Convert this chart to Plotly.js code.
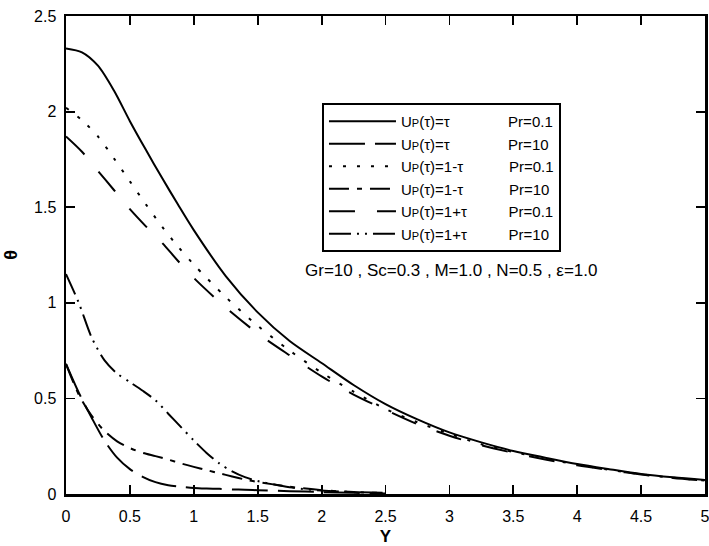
<!DOCTYPE html>
<html>
<head>
<meta charset="utf-8">
<script src="https://cdn.plot.ly/plotly-3.0.1.min.js"></script>
<style>html,body{margin:0;padding:0;background:#fff;}#chart{width:709px;height:546px;}</style>
</head>
<body>
<div id="chart"></div>
<script>
// Upper group (Pr = 0.1)
var xUpper = [0,0.125,0.25,0.375,0.5,0.625,0.75,0.875,1,1.25,1.5,1.75,2,2.25,2.5,2.75,3,3.25,3.5,3.75,4,4.25,4.5,4.75,5];
var tauPr01      = [2.33,2.31,2.24,2.11,1.95,1.80,1.655,1.515,1.38,1.14,0.95,0.80,0.685,0.57,0.47,0.39,0.322,0.27,0.225,0.19,0.157,0.13,0.105,0.087,0.073];
var oneMinusPr01 = [2.02,1.955,1.87,1.755,1.635,1.515,1.40,1.295,1.20,1.03,0.88,0.75,0.635,0.535,0.445,0.375,0.315,0.26,0.22,0.185,0.153,0.127,0.103,0.085,0.07];
var onePlusPr01  = [1.87,1.79,1.69,1.59,1.49,1.40,1.315,1.22,1.13,0.975,0.84,0.725,0.615,0.52,0.44,0.365,0.305,0.255,0.215,0.18,0.15,0.125,0.102,0.084,0.07];
// Lower group (Pr = 10)
var xLower = [0,0.1,0.2,0.3,0.4,0.5,0.6,0.7,0.8,0.9,1.0,1.1,1.2,1.3,1.4,1.5,1.75,2,2.25,2.5];
var tauPr10      = [0.68,0.53,0.40,0.28,0.19,0.13,0.09,0.062,0.046,0.038,0.032,0.029,0.027,0.024,0.022,0.02,0.015,0.01,0.006,0.003];
var oneMinusPr10 = [0.68,0.52,0.41,0.33,0.275,0.24,0.215,0.198,0.18,0.16,0.142,0.125,0.108,0.092,0.076,0.063,0.038,0.02,0.01,0.005];
var onePlusPr10  = [1.15,1.0,0.82,0.70,0.63,0.585,0.54,0.49,0.42,0.35,0.28,0.215,0.16,0.118,0.088,0.068,0.035,0.018,0.01,0.006];

var sp = function (n) { return '\u00a0'.repeat(n); };
var U = 'U<span style="font-size:11px">P</span>';
var names = [
  U + '(τ)=τ' + sp(14) + 'Pr=0.1',
  U + '(τ)=τ' + sp(14) + 'Pr=10',
  U + '(τ)=1-τ' + sp(11) + 'Pr=0.1',
  U + '(τ)=1-τ' + sp(11) + 'Pr=10',
  U + '(τ)=1+τ' + sp(10) + 'Pr=0.1',
  U + '(τ)=1+τ' + sp(10) + 'Pr=10'
];
var xTicks = [0,0.5,1,1.5,2,2.5,3,3.5,4,4.5,5];
var xTickText = ['0','0.5','1','1.5','2','2.5','3','3.5','4','4.5','5'];
var yTicks = [0,0.5,1,1.5,2,2.5];
var yTickText = ['0','0.5','1','1.5','2','2.5'];

function tr(x, y, name, dash) {
  return {x: x, y: y, name: name, type: 'scatter', mode: 'lines',
    line: {color: '#000', width: 2, dash: dash, shape: 'spline', smoothing: 0.8}};
}
var data = [
  tr(xUpper, tauPr01, names[0], 'solid'),
  tr(xLower, tauPr10, names[1], '36px,10px'),
  tr(xUpper, oneMinusPr01, names[2], '3px,11px'),
  tr(xLower, oneMinusPr10, names[3], '20px,8px,5px,8px'),
  tr(xUpper, onePlusPr01, names[4], '26px,22px'),
  tr(xLower, onePlusPr10, names[5], '22px,6px,2px,6px,2px,6px')
];
var fam = 'Arial, "Liberation Sans", sans-serif';
var tickFont = {family: fam, size: 16, color: '#000'};
var axisCommon = {
  showgrid: false, zeroline: false, showline: true, linecolor: '#000', linewidth: 2.5,
  mirror: 'ticks', ticks: 'inside', ticklen: 9, tickwidth: 1.8, tickcolor: '#000',
  tickfont: tickFont, tickmode: 'array', ticklabeloverflow: 'allow'
};
var layout = {
  width: 709, height: 546,
  margin: {l: 66, r: 4, t: 16, b: 52},
  paper_bgcolor: '#fff', plot_bgcolor: '#fff',
  font: {family: fam, size: 16, color: '#000'},
  showlegend: true,
  legend: {x: 0.4006, y: 0.818, xanchor: 'left', yanchor: 'top',
    bordercolor: '#000', borderwidth: 2, bgcolor: '#fff',
    font: {family: fam, size: 15, color: '#000'},
    itemwidth: 67, tracegroupgap: 0},
  xaxis: Object.assign({}, axisCommon, {range: [0, 5], tickvals: xTicks, ticktext: xTickText,
    ticklabelstandoff: 6,
    title: {text: '<b>Y</b>', font: {family: fam, size: 17, color: '#000'}, standoff: 8}}),
  yaxis: Object.assign({}, axisCommon, {range: [0, 2.5], tickvals: yTicks, ticktext: yTickText,
    ticklabelstandoff: 4,
    title: {text: '<b>θ</b>', font: {family: fam, size: 18, color: '#000'}, standoff: 12}}),
  annotations: [{
    x: 3.02, y: 1.17, xref: 'x', yref: 'y', showarrow: false,
    text: 'Gr=10 , Sc=0.3 , M=1.0 , N=0.5 , ε=1.0',
    font: {family: fam, size: 17, color: '#000'}
  }]
};
Plotly.newPlot('chart', data, layout, {displayModeBar: false, staticPlot: true});
</script>
</body>
</html>
